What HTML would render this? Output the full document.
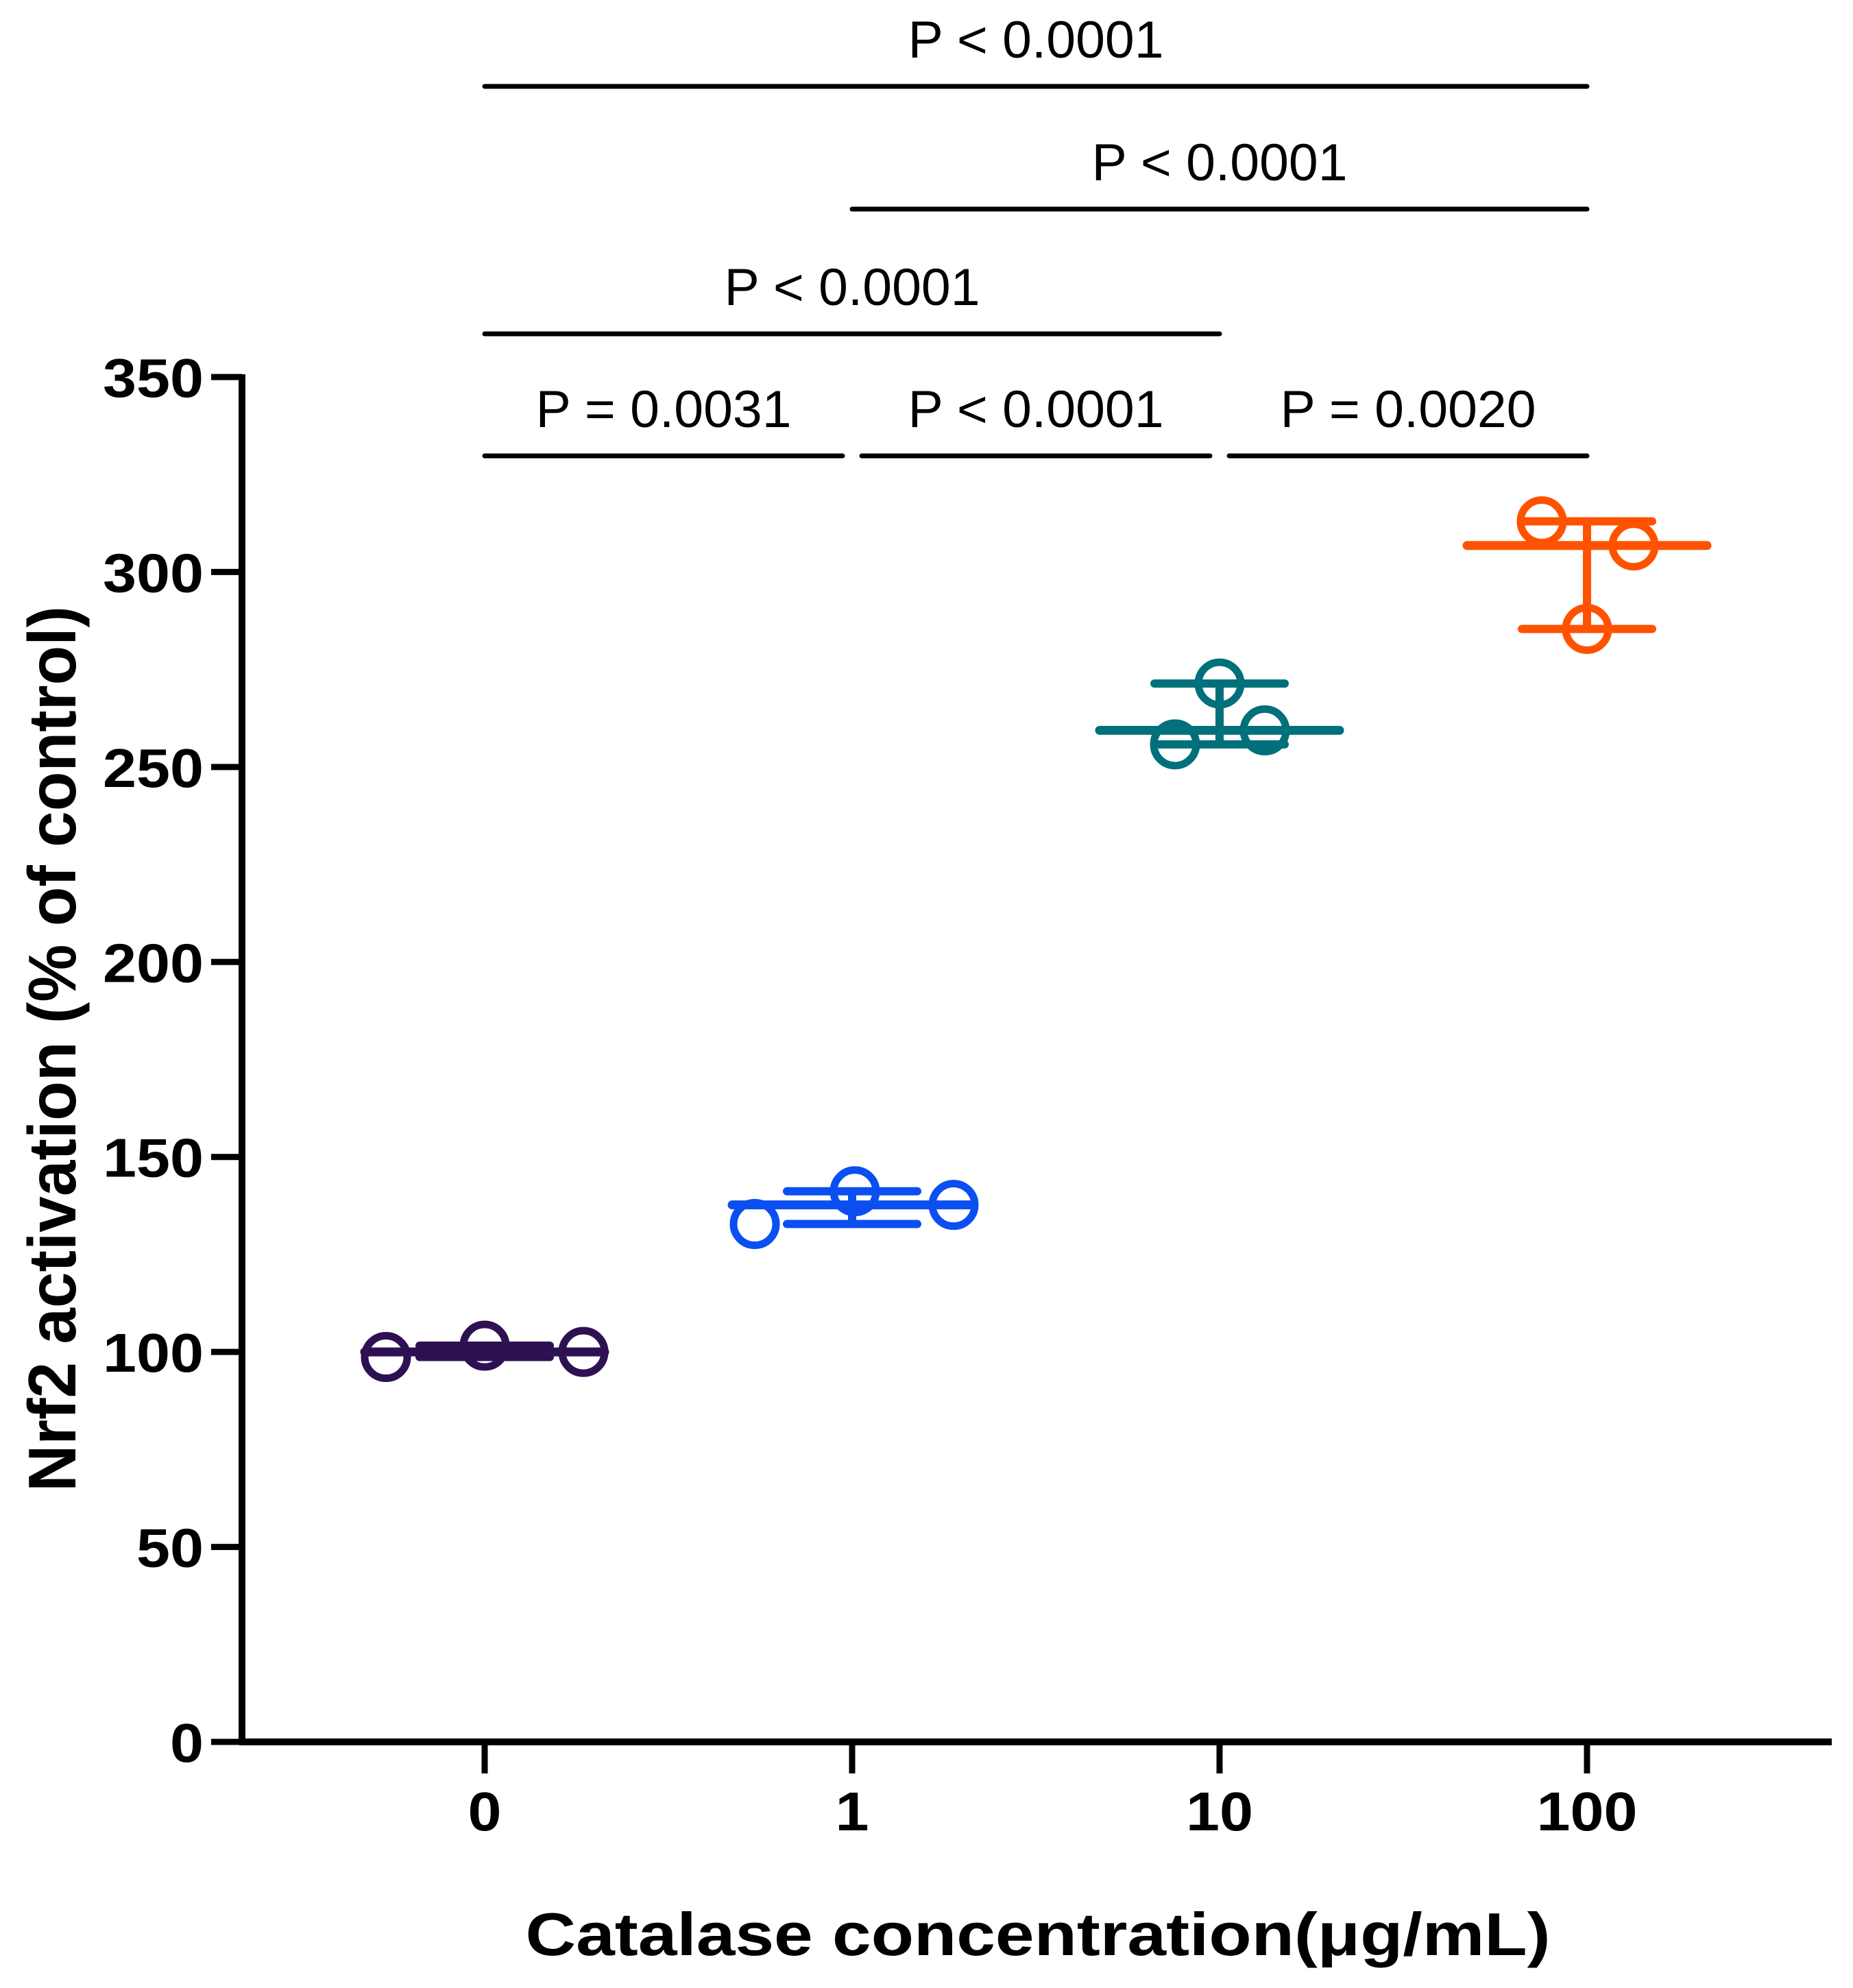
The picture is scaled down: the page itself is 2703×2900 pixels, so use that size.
<!DOCTYPE html>
<html><head><meta charset="utf-8"><style>
html,body{margin:0;padding:0;background:#fff;}
svg{display:block;}
text{font-family:"Liberation Sans",Arial,sans-serif;}
</style></head><body>
<svg id="chart" width="2703" height="2900" viewBox="0 0 2703 2900" xmlns="http://www.w3.org/2000/svg"></svg>
<script>
const categories = ["0","1","10","100"];
const pointValues = [[98.7,101.6,100],[132.8,141.2,137.7],[255.8,271.4,259.4],[313,306.8,285.4]];
const colors = ["#2e1152","#0b4ff0","#00707a","#ff5200"];
const yTicks = [0,50,100,150,200,250,300,350];
const comparisons = [
  {a:0,b:3,label:"P < 0.0001",level:3},
  {a:1,b:3,label:"P < 0.0001",level:2},
  {a:0,b:2,label:"P < 0.0001",level:1},
  {a:0,b:1,label:"P = 0.0031",level:0},
  {a:1,b:2,label:"P < 0.0001",level:0},
  {a:2,b:3,label:"P = 0.0020",level:0}
];
const jitter = [[-144,0,144],[-142,4,148],[-65,0,66],[-66,68,0]];

const svg = document.getElementById('chart');
const NS = "http://www.w3.org/2000/svg";
const y0 = 2541, y350 = 550, axisX = 353, axisRight = 2672;
function yScale(v){ return y0 - (y0 - y350) * v / 350; }
function xScale(i){ return 707 + i * 536; }
function mk(tag, attrs){ const e = document.createElementNS(NS, tag); for (const k in attrs) e.setAttribute(k, attrs[k]); svg.appendChild(e); return e; }

let ax = mk('line',{x1:axisX,y1:y350-4,x2:axisX,y2:y0+4,stroke:'#000','stroke-width':10});


ax = mk('line',{x1:axisX-4,y1:y0,x2:axisRight,y2:y0,stroke:'#000','stroke-width':10});



yTicks.forEach(v=>{
  const y = yScale(v);
  const t = mk('line',{x1:308,y1:y,x2:axisX,y2:y,stroke:'#000','stroke-width':9});
  
  
  const s = String(v);
  const l = mk('text',{x:297,y:y+29,'text-anchor':'end','font-size':80,'font-weight':'bold',textLength:s.length*49,lengthAdjust:'spacingAndGlyphs'});
  l.textContent = s;
  
  
});
categories.forEach((c,i)=>{
  const x = xScale(i);
  const t = mk('line',{x1:x,y1:y0,x2:x,y2:y0+46,stroke:'#000','stroke-width':9});
  
  
  const l = mk('text',{x:x,y:2670,'text-anchor':'middle','font-size':80,'font-weight':'bold',textLength:c.length*49,lengthAdjust:'spacingAndGlyphs'});
  l.textContent = c;
  
  
});

let tt = mk('text',{x:1514,y:2852,'text-anchor':'middle','font-size':88,'font-weight':'bold',textLength:1495,lengthAdjust:'spacingAndGlyphs'});
tt.textContent = "Catalase concentration(μg/mL)";


tt = mk('text',{x:0,y:0,'text-anchor':'middle','font-size':98,'font-weight':'bold',textLength:1292,lengthAdjust:'spacingAndGlyphs',transform:'translate(110,1530) rotate(-90)'});
tt.textContent = "Nrf2 activation (% of control)";



pointValues.forEach((vals,i)=>{
  const cx = xScale(i), col = colors[i];
  const s = vals.slice().sort((a,b)=>a-b);
  const med = s[1], mn = s[0], mx = s[2];
  let e = mk('line',{x1:cx,y1:yScale(mx),x2:cx,y2:yScale(mn),stroke:col,'stroke-width':12});
  
  
  [mn,mx].forEach(v=>{
    const c = mk('line',{x1:cx-95,y1:yScale(v),x2:cx+95,y2:yScale(v),stroke:col,'stroke-width':12,'stroke-linecap':'round'});
    
    
  });
  const m = mk('line',{x1:cx-175,y1:yScale(med),x2:cx+175,y2:yScale(med),stroke:col,'stroke-width':13,'stroke-linecap':'round'});
  
  
  vals.forEach((v,j)=>{
    const p = mk('circle',{cx:cx+jitter[i][j],cy:yScale(v),r:31,fill:'none',stroke:col,'stroke-width':11});
    
    
  });
});

const levelY = [665,487,305,126];
comparisons.forEach(c=>{
  let x1 = xScale(c.a), x2 = xScale(c.b);
  if (c.level===0){ if (c.a>0) x1 += 14; if (c.b<3) x2 -= 14; }
  const y = levelY[c.level];
  const l = mk('line',{x1:x1,y1:y,x2:x2,y2:y,stroke:'#000','stroke-width':7,'stroke-linecap':'round'});
  
  
  const t = mk('text',{x:(x1+x2)/2,y:y-42,'text-anchor':'middle','font-size':76,textLength:373,lengthAdjust:'spacingAndGlyphs'});
  t.textContent = c.label;
  
  
});
</script>
</body></html>
